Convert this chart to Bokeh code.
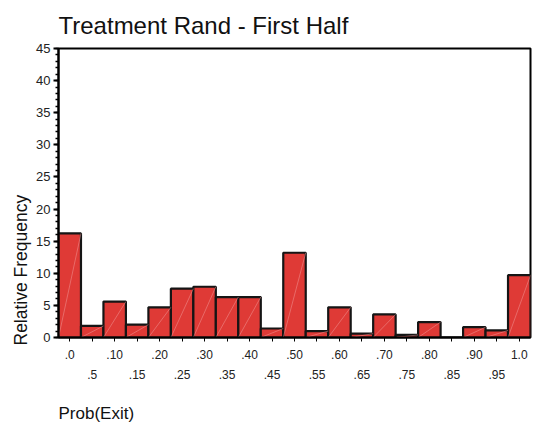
from bokeh.plotting import figure
from bokeh.models import Range1d, FixedTicker, SingleIntervalTicker, LinearAxis, Title, ColumnDataSource
from bokeh.embed import file_html
from bokeh.resources import INLINE

# ---- data ----
bin_centers = [0.0, 0.05, 0.10, 0.15, 0.20, 0.25, 0.30, 0.35, 0.40, 0.45, 0.50,
               0.55, 0.60, 0.65, 0.70, 0.75, 0.80, 0.85, 0.90, 0.95, 1.0]
tick_labels = [".0", ".5", ".10", ".15", ".20", ".25", ".30", ".35", ".40", ".45", ".50",
               ".55", ".60", ".65", ".70", ".75", ".80", ".85", ".90", ".95", "1.0"]
rel_freq = [16.2, 1.8, 5.6, 2.0, 4.7, 7.6, 7.9, 6.3, 6.3, 1.4, 13.2,
            1.0, 4.7, 0.6, 3.6, 0.4, 2.4, 0.0, 1.6, 1.1, 9.7]
bin_width = 0.05
y_max = 45

FONT = "Liberation Sans"

src = ColumnDataSource(dict(
    x=bin_centers,
    top=rel_freq,
    left=[c - bin_width / 2 for c in bin_centers],
    right=[c + bin_width / 2 for c in bin_centers],
    zero=[0] * len(bin_centers),
))

x_start = bin_centers[0] - bin_width / 2
x_end = bin_centers[-1] + bin_width / 2

p = figure(width=533, height=428, output_backend="svg", toolbar_location=None,
           x_range=Range1d(x_start, x_end), y_range=Range1d(0, y_max),
           x_axis_location=None,
           min_border_left=58, min_border_right=3, min_border_top=47, min_border_bottom=91)

p.background_fill_color = "white"
p.border_fill_color = "white"
p.outline_line_color = "black"
p.outline_line_width = 2
p.xgrid.visible = False
p.ygrid.visible = False

# title
p.title.text = "Treatment Rand - First Half"
p.title.align = "left"
p.title.text_font = FONT
p.title.text_font_size = "24px"
p.title.text_font_style = "normal"
p.title.text_color = "#111111"
p.title.standoff = 19

# bars
p.vbar(x="x", top="top", width=bin_width, bottom=0, source=src,
       fill_color="#df3a36", line_color="#151515", line_width=2.2)
p.segment(x0="left", y0="zero", x1="right", y1="top", source=src,
          line_color="#f2a0a0", line_width=0.6, line_alpha=0.8)

# y axis
ya = p.yaxis[0]
ya.ticker = SingleIntervalTicker(interval=5, num_minor_ticks=5)
ya.axis_line_width = 2
ya.axis_line_color = "black"
ya.major_tick_in = 0
ya.major_tick_out = 5
ya.major_tick_line_width = 2
ya.minor_tick_in = 0
ya.minor_tick_out = 3
ya.minor_tick_line_width = 1.5
ya.major_label_text_font = FONT
ya.major_label_text_font_size = "13px"
ya.major_label_text_color = "#222222"
ya.major_label_standoff = 3

p.add_layout(Title(text="Relative Frequency", align="left", text_font=FONT,
                   text_font_size="17.5px", text_font_style="normal",
                   text_color="#111111", offset=-8, standoff=6), "left")

# x axis rows
odd_idx = list(range(1, len(bin_centers), 2))

xa1 = LinearAxis(ticker=FixedTicker(ticks=bin_centers))
xa1.major_label_overrides = {bin_centers[i]: (tick_labels[i] if i % 2 == 0 else "") for i in range(len(bin_centers))}
xa1.axis_line_width = 2
xa1.major_tick_in = 0
xa1.major_tick_out = 4
xa1.major_tick_line_width = 1
xa1.minor_tick_line_color = None
xa1.major_label_text_font = FONT
xa1.major_label_text_font_size = "12px"
xa1.major_label_text_color = "#222222"
xa1.major_label_standoff = 8
p.add_layout(xa1, "below")

odd_ticks = [bin_centers[i] for i in odd_idx]
xa2 = LinearAxis(ticker=FixedTicker(ticks=odd_ticks))
xa2.major_label_overrides = {bin_centers[i]: tick_labels[i] for i in odd_idx}
xa2.axis_line_color = None
xa2.major_tick_line_color = None
xa2.minor_tick_line_color = None
xa2.major_tick_out = 0
xa2.major_tick_in = 0
xa2.major_label_text_font = FONT
xa2.major_label_text_font_size = "12px"
xa2.major_label_text_color = "#222222"
xa2.major_label_standoff = 8
p.add_layout(xa2, "below")

# x axis title, left-aligned; leading blank line provides the gap below the tick rows
p.add_layout(Title(text="\nProb(Exit)", align="left", text_font=FONT,
                   text_font_size="17px", text_font_style="normal",
                   text_line_height=1.1,
                   text_color="#111111", standoff=0), "below")

open("out.html", "w").write(file_html(p, INLINE))
